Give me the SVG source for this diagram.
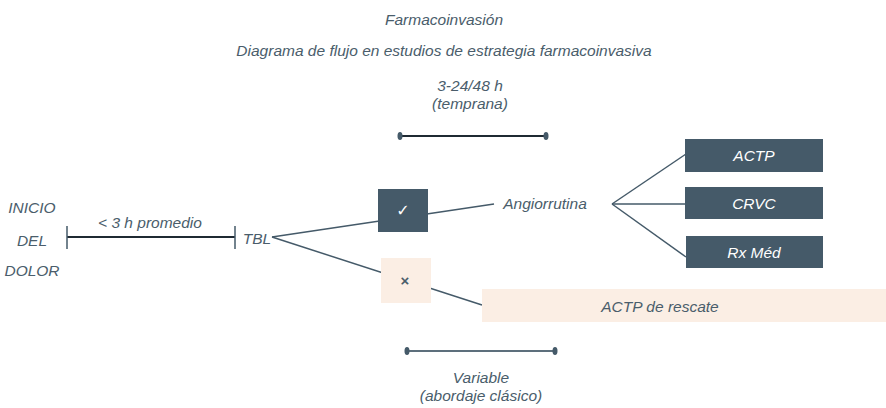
<svg xmlns="http://www.w3.org/2000/svg" width="886" height="408" viewBox="0 0 886 408">
<style>
text{font-family:"Liberation Sans","Open Sans",sans-serif;font-style:italic;font-size:15.5px;fill:#4a5d6b;text-anchor:middle;dominant-baseline:central}
.w{fill:#ffffff}
.dark{fill:#455a69}
.light{fill:#fbeee4}
.conn{stroke:#455a69;stroke-width:1.5;fill:none}
.tl{stroke:#1f2a33;stroke-width:2}
.dot{fill:#455a69}
</style>
<rect width="886" height="408" fill="#ffffff"/>
<g id="titles">
<text x="444" y="19">Farmacoinvasión</text>
<text x="444" y="50">Diagrama de flujo en estudios de estrategia farmacoinvasiva</text>
</g>
<g id="connectors">
<line class="conn" x1="272" y1="237" x2="494" y2="204"/>
<line class="conn" x1="272" y1="237" x2="482" y2="305"/>
<line class="conn" x1="612" y1="204" x2="686" y2="154"/>
<line class="conn" x1="612" y1="204" x2="686" y2="204"/>
<line class="conn" x1="612" y1="204" x2="686" y2="257"/>
</g>
<g id="timeline-temprana">
<text x="470" y="85">3-24/48 h</text>
<text x="470" y="103.5">(temprana)</text>
<line class="tl" x1="400" y1="136" x2="546" y2="136"/>
<ellipse class="dot" cx="400" cy="136" rx="2.5" ry="4"/>
<ellipse class="dot" cx="546" cy="136" rx="2.5" ry="4"/>
</g>
<g id="timeline-variable">
<line class="tl" x1="407" y1="351" x2="555" y2="351" style="stroke:#5d6f7c"/>
<ellipse class="dot" cx="407" cy="351" rx="2.5" ry="4"/>
<ellipse class="dot" cx="555" cy="351" rx="2.5" ry="4"/>
<text x="481" y="377">Variable</text>
<text x="481" y="395.5">(abordaje clásico)</text>
</g>
<g id="inicio">
<text x="32" y="207">INICIO</text>
<text x="32" y="240">DEL</text>
<text x="32" y="270">DOLOR</text>
</g>
<g id="timeline-tbl">
<line class="tl" x1="67" y1="237" x2="235" y2="237"/>
<line x1="67" y1="226" x2="67" y2="249" stroke="#455a69" stroke-width="1.5"/>
<line x1="235" y1="226" x2="235" y2="249" stroke="#455a69" stroke-width="1.5"/>
<text x="150" y="222">&lt; 3 h promedio</text>
</g>
<g id="tbl"><text x="257" y="238">TBL</text></g>
<g id="check">
<rect class="dark" x="378" y="189" width="50" height="43"/>
<text class="w" x="403" y="210" style="font-family:'DejaVu Sans',sans-serif;font-style:normal;font-size:16px">✓</text>
</g>
<g id="cross">
<rect class="light" x="381" y="258" width="50" height="45"/>
<text x="405" y="280" style="font-style:normal;font-weight:bold;font-size:15px">×</text>
</g>
<g id="angiorrutina"><text x="545" y="203">Angiorrutina</text></g>
<g id="actp">
<rect class="dark" x="685" y="139" width="138" height="33"/>
<text class="w" x="754" y="155">ACTP</text>
</g>
<g id="crvc">
<rect class="dark" x="685" y="187" width="138" height="32"/>
<text class="w" x="754" y="203">CRVC</text>
</g>
<g id="rxmed">
<rect class="dark" x="686" y="236" width="137" height="32"/>
<text class="w" x="754" y="252">Rx Méd</text>
</g>
<g id="rescate">
<rect class="light" x="482" y="289" width="404" height="33"/>
<text x="660" y="306">ACTP de rescate</text>
</g>
</svg>
